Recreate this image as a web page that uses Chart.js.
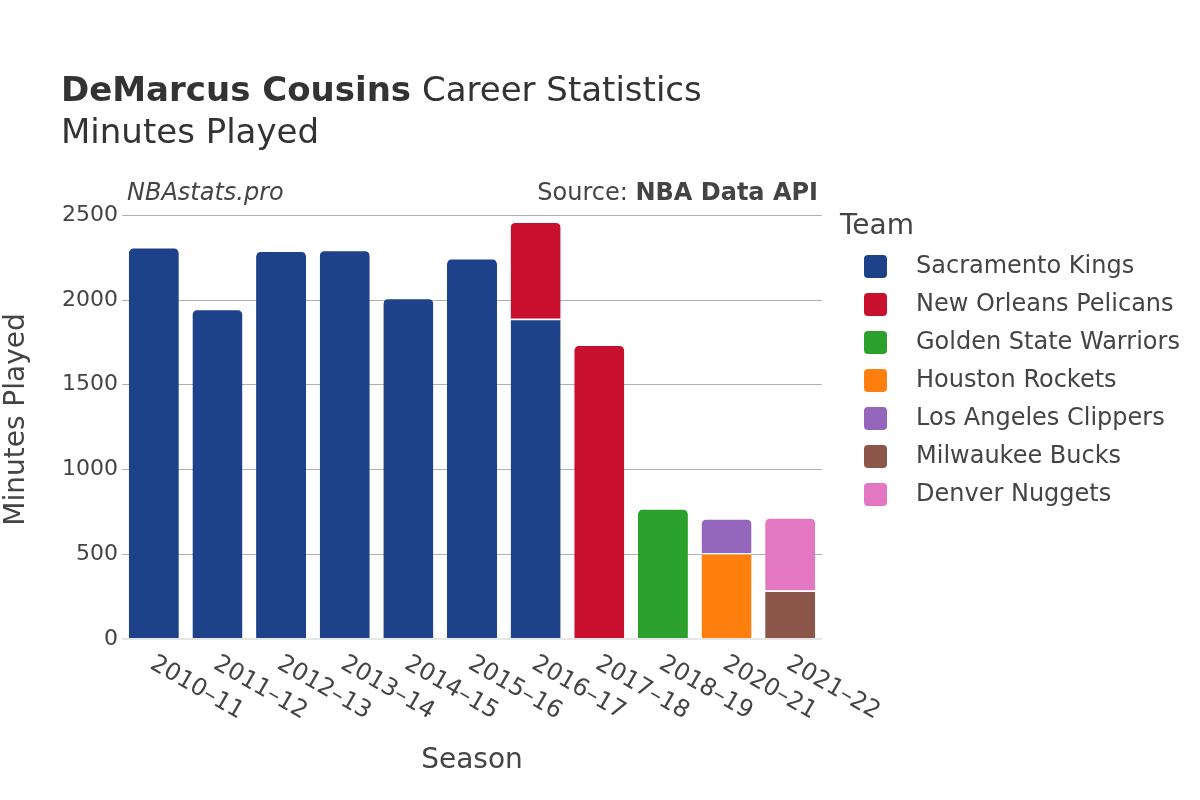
<!DOCTYPE html>
<html>
<head>
<meta charset="utf-8">
<script src="https://cdn.jsdelivr.net/npm/chart.js@4.4.1/dist/chart.umd.min.js"></script>
<style>
  html, body { margin: 0; padding: 0; background: #fff; }
  #wrap { width: 1200px; height: 800px; }
</style>
</head>
<body>
<div id="wrap"><canvas id="chart" width="1200" height="800"></canvas></div>
<script>
// Minutes played per season, split by team (null = did not play for that team)
const seasons = ['2010–11', '2011–12', '2012–13', '2013–14', '2014–15', '2015–16', '2016–17', '2017–18', '2018–19', '2020–21', '2021–22'];
const teams = ['Sacramento Kings', 'New Orleans Pelicans', 'Golden State Warriors', 'Houston Rockets', 'Los Angeles Clippers', 'Milwaukee Bucks', 'Denver Nuggets'];
const teamColors = ['#1d428a', '#c8102e', '#2ca02c', '#ff7f0e', '#9467bd', '#8c564b', '#e377c2'];

const sacramento = [2312, 1948, 2292, 2297, 2013, 2248, 1890, null, null, null, null];
const pelicans   = [null, null, null, null, null, null, 573, 1737, null, null, null];
const warriors   = [null, null, null, null, null, null, null, null, 771, null, null];
const rockets    = [null, null, null, null, null, null, null, null, null, 507, null];
const clippers   = [null, null, null, null, null, null, null, null, null, 206, null];
const bucks      = [null, null, null, null, null, null, null, null, null, null, 286];
const nuggets    = [null, null, null, null, null, null, null, null, null, null, 432];

const yTicks = [0, 500, 1000, 1500, 2000, 2500];
const yMax = 2590;

const FONT = '"DejaVu Sans", sans-serif';
const TEXT = '#444';

const series = [sacramento, pelicans, warriors, rockets, clippers, bucks, nuggets];

const decorations = {
    id: 'decorations',
    beforeDraw(chart) {
        const ctx = chart.ctx;
        ctx.save();
        ctx.fillStyle = '#fff';
        ctx.fillRect(0, 0, chart.width, chart.height);
        ctx.restore();
    },
    afterDraw(chart) {
        const ctx = chart.ctx;
        const area = chart.chartArea;
        const x = chart.scales.x;
        ctx.save();

        // title
        ctx.fillStyle = '#333';
        ctx.textBaseline = 'alphabetic';
        ctx.textAlign = 'left';
        ctx.font = `bold 34px ${FONT}`;
        const bold = 'DeMarcus Cousins';
        ctx.fillText(bold, 61, 101);
        const bw = ctx.measureText(bold).width;
        ctx.font = `34px ${FONT}`;
        ctx.fillText(' Career Statistics', 61 + bw, 101);
        ctx.fillText('Minutes Played', 61, 143);

        // watermark + source
        ctx.fillStyle = TEXT;
        ctx.font = `italic 24px ${FONT}`;
        ctx.fillText('NBAstats.pro', 127, 200);
        ctx.textAlign = 'right';
        ctx.font = `bold 24px ${FONT}`;
        const src = 'NBA Data API';
        ctx.fillText(src, 818, 200);
        const sw = ctx.measureText(src).width;
        ctx.font = `24px ${FONT}`;
        ctx.fillText('Source: ', 818 - sw, 200);

        // x tick labels, rotated 30deg
        ctx.font = `24px ${FONT}`;
        ctx.textAlign = 'left';
        ctx.textBaseline = 'middle';
        seasons.forEach((s, i) => {
            const px = x.getPixelForValue(i);
            ctx.save();
            ctx.translate(px - 2, 662);
            ctx.rotate(Math.PI / 6);
            ctx.fillText(s, 0, 0);
            ctx.restore();
        });

        // axis titles
        ctx.font = `28px ${FONT}`;
        ctx.textAlign = 'center';
        ctx.fillText('Season', (area.left + area.right) / 2, 761);
        ctx.save();
        ctx.translate(17, (area.top + area.bottom) / 2);
        ctx.rotate(-Math.PI / 2);
        ctx.fillText('Minutes Played', 0, 0);
        ctx.restore();

        // legend
        ctx.textAlign = 'left';
        ctx.font = `28px ${FONT}`;
        ctx.fillText('Team', 840, 227);
        ctx.font = `24px ${FONT}`;
        chart.data.datasets.forEach((ds, i) => {
            const cy = 266 + i * 38;
            ctx.fillStyle = ds.backgroundColor;
            ctx.beginPath();
            ctx.roundRect(864, cy - 11, 23, 23, 4);
            ctx.fill();
            ctx.fillStyle = TEXT;
            ctx.fillText(ds.label, 916, cy + 1);
        });

        ctx.restore();
    }
};

new Chart(document.getElementById('chart'), {
    type: 'bar',
    data: {
        labels: seasons,
        datasets: teams.map((t, i) => ({
            label: t,
            data: series[i],
            backgroundColor: teamColors[i],
            borderColor: '#fff',
            borderWidth: { top: 1.5, left: 0, right: 0, bottom: 0 },
            borderRadius: 6,
            borderSkipped: 'start',
            barPercentage: 0.786,
            categoryPercentage: 1.0
        }))
    },
    options: {
        responsive: false,
        animation: false,
        devicePixelRatio: 1,
        layout: { padding: { left: 62, right: 378, top: 200, bottom: 161 } },
        plugins: {
            legend: { display: false },
            title: { display: false },
            tooltip: { enabled: false }
        },
        scales: {
            x: {
                stacked: true,
                grid: { display: false },
                border: { display: false },
                ticks: { display: false },
                afterFit: (s) => { s.height = 0; }
            },
            y: {
                stacked: true,
                min: 0,
                max: yMax,
                afterBuildTicks: (axis) => { axis.ticks = yTicks.map(v => ({ value: v })); },
                afterFit: (s) => { s.width = 60; },
                border: { display: false },
                grid: {
                    drawTicks: false,
                    color: (c) => c.tick && c.tick.value === 0 ? '#e6e6e6' : '#b0b0b0',
                    lineWidth: (c) => c.tick && c.tick.value === 0 ? 2 : 1
                },
                ticks: {
                    padding: 4,
                    color: TEXT,
                    font: { family: FONT, size: 22 },
                    callback: (v) => String(v)
                }
            }
        }
    },
    plugins: [decorations]
});
</script>
</body>
</html>
